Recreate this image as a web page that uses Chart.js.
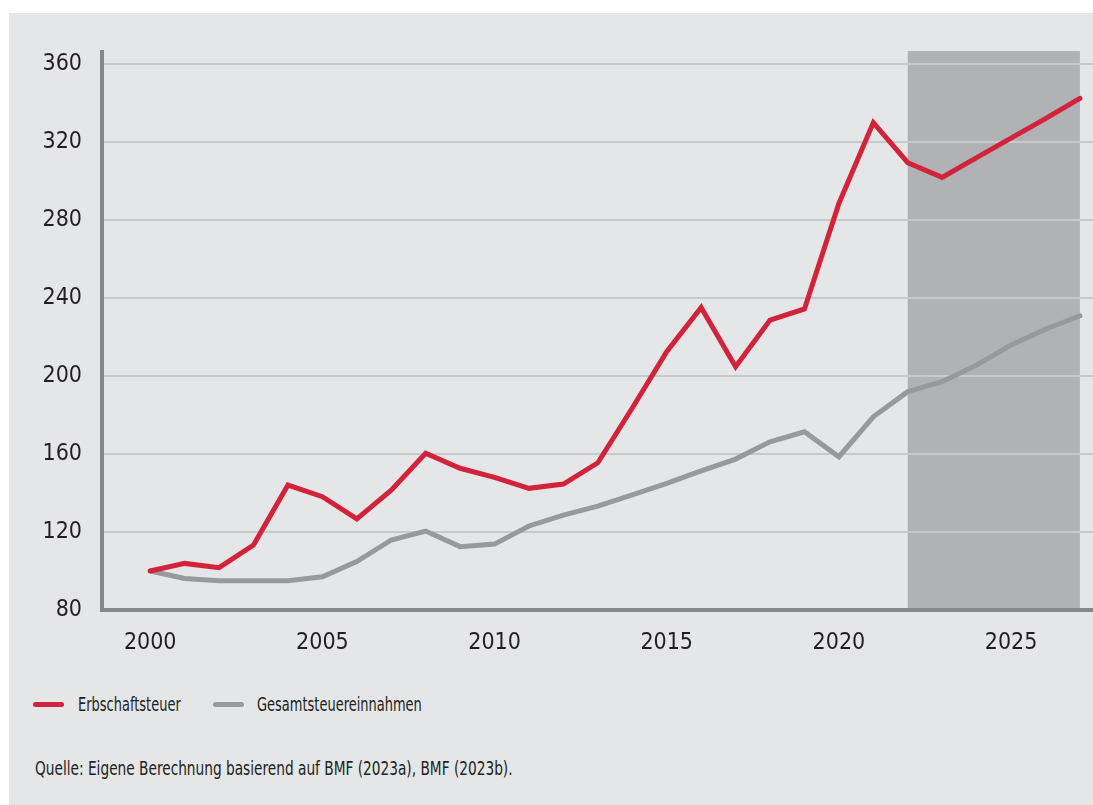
<!DOCTYPE html>
<html lang="de">
<head>
<meta charset="utf-8">
<title>Erbschaftsteuer und Gesamtsteuereinnahmen</title>
<script src="https://cdn.jsdelivr.net/npm/chart.js@4/dist/chart.umd.min.js"></script>
<style>
    body { margin: 0; background: #fff; width: 1093px; height: 805px; overflow: hidden; }
    #panel { position: absolute; left: 9px; top: 13px; width: 1084px; height: 792px; background: #e5e6e8; }
    #chart { position: absolute; left: 0; top: 0; }
    .txt { font-family: "Liberation Sans Narrow", "DejaVu Sans Condensed", sans-serif; color: #231f20; }
    #legend { position: absolute; left: 0; top: 678px; width: 1084px; height: 26px; }
    .legend-item { position: absolute; top: 0; height: 26px; line-height: 26px; font-size: 19px;
                   white-space: nowrap; transform: scaleX(0.76); transform-origin: left center; }
    .legend-line { position: absolute; top: 11px; width: 31px; height: 5px; border-radius: 3px; }
    #source { position: absolute; left: 26px; top: 743px; font-size: 20px; white-space: nowrap;
              transform: scaleX(0.762); transform-origin: left center; }
</style>
</head>
<body>
<div id="panel">
    <canvas id="chart" width="1084" height="660"></canvas>
    <div id="legend" class="txt"></div>
    <div id="source" class="txt">Quelle: Eigene Berechnung basierend auf BMF (2023a), BMF (2023b).</div>
</div>
<script>
(() => {
    const years = [2000, 2001, 2002, 2003, 2004, 2005, 2006, 2007, 2008, 2009,
                   2010, 2011, 2012, 2013, 2014, 2015, 2016, 2017, 2018, 2019,
                   2020, 2021, 2022, 2023, 2024, 2025, 2026, 2027];
    const erbschaftsteuer = [100, 103.9, 101.7, 113.3, 144.1, 138.1, 126.7, 141.5, 160.4, 152.7,
                             148, 142.4, 144.6, 155.5, 183.6, 212.5, 235.2, 204.8, 228.7, 234.4,
                             288.5, 330, 309.4, 301.9, 312, 322, 332, 342.4];
    const gesamtsteuer = [100, 96.2, 95, 95, 95, 97, 104.8, 115.9, 120.5, 112.5,
                          113.8, 123.1, 128.7, 133.3, 139, 145, 151.4, 157.4, 166.3, 171.4,
                          158.6, 179.1, 192, 197.1, 205.6, 215.9, 224, 230.9];
    const seriesNames = ["Erbschaftsteuer", "Gesamtsteuereinnahmen"];
    const xTickLabels = [2000, 2005, 2010, 2015, 2020, 2025];
    const yTickLabels = [80, 120, 160, 200, 240, 280, 320, 360];
    const forecastRange = [2022, 2027];

    const font = "'Liberation Sans Narrow', 'DejaVu Sans Condensed', sans-serif";
    const textColor = "#231f20";
    const colors = ["#d3233a", "#98999b"];

    const toPoints = (values) => values.map((v, i) => ({ x: years[i], y: v }));

    // dark band for the forecast years, under the grid lines
    const forecastBand = {
        id: "forecastBand",
        beforeDraw(chart) {
            const { ctx, chartArea, scales } = chart;
            const x0 = scales.x.getPixelForValue(forecastRange[0]);
            const x1 = scales.x.getPixelForValue(forecastRange[1]);
            ctx.save();
            ctx.fillStyle = "#b1b2b5";
            ctx.fillRect(x0, chartArea.top - 1, x1 - x0, chartArea.bottom - chartArea.top + 1);
            ctx.restore();
        }
    };

    const chart = new Chart(document.getElementById("chart"), {
        type: "line",
        data: {
            datasets: [
                { label: seriesNames[0], data: toPoints(erbschaftsteuer), borderColor: colors[0] },
                { label: seriesNames[1], data: toPoints(gesamtsteuer), borderColor: colors[1] }
            ]
        },
        options: {
            responsive: false,
            animation: false,
            layout: { padding: { top: 39, left: 0, right: 0, bottom: 0 } },
            elements: {
                line: { borderWidth: 5, tension: 0, borderJoinStyle: "miter", borderCapStyle: "round" },
                point: { radius: 0 }
            },
            plugins: {
                legend: { display: false },
                tooltip: { enabled: false }
            },
            scales: {
                x: {
                    type: "linear",
                    min: 1998.6,
                    max: 2027.38,
                    afterFit: (scale) => { scale.height = 63; },
                    afterBuildTicks: (scale) => { scale.ticks = xTickLabels.map((v) => ({ value: v })); },
                    grid: { display: false, drawTicks: false },
                    border: { color: "#86878a", width: 4 },
                    ticks: {
                        padding: 19,
                        color: textColor,
                        font: { family: font, size: 23 },
                        maxRotation: 0,
                        callback: (v) => String(v)
                    }
                },
                y: {
                    min: 80,
                    max: 366.2,
                    afterFit: (scale) => { scale.width = 93; },
                    afterBuildTicks: (scale) => { scale.ticks = yTickLabels.map((v) => ({ value: v })); },
                    grid: { color: "#c8c9cb", lineWidth: 2, drawTicks: false },
                    border: { color: "#86878a", width: 4 },
                    ticks: {
                        padding: 20,
                        color: textColor,
                        font: { family: font, size: 23 },
                        callback: (v) => String(v)
                    }
                }
            }
        },
        plugins: [forecastBand]
    });

    // html legend built from the datasets
    const legendPos = [[24, 69], [204, 248]];
    chart.data.datasets.forEach((ds, i) => {
        document.getElementById("legend").insertAdjacentHTML(
            "beforeend",
            `<div class="legend-line" style="left:${legendPos[i][0]}px;background:${ds.borderColor}"></div>
             <div class="legend-item" style="left:${legendPos[i][1]}px">${ds.label}</div>`
        );
    });
})();
</script>
</body>
</html>
